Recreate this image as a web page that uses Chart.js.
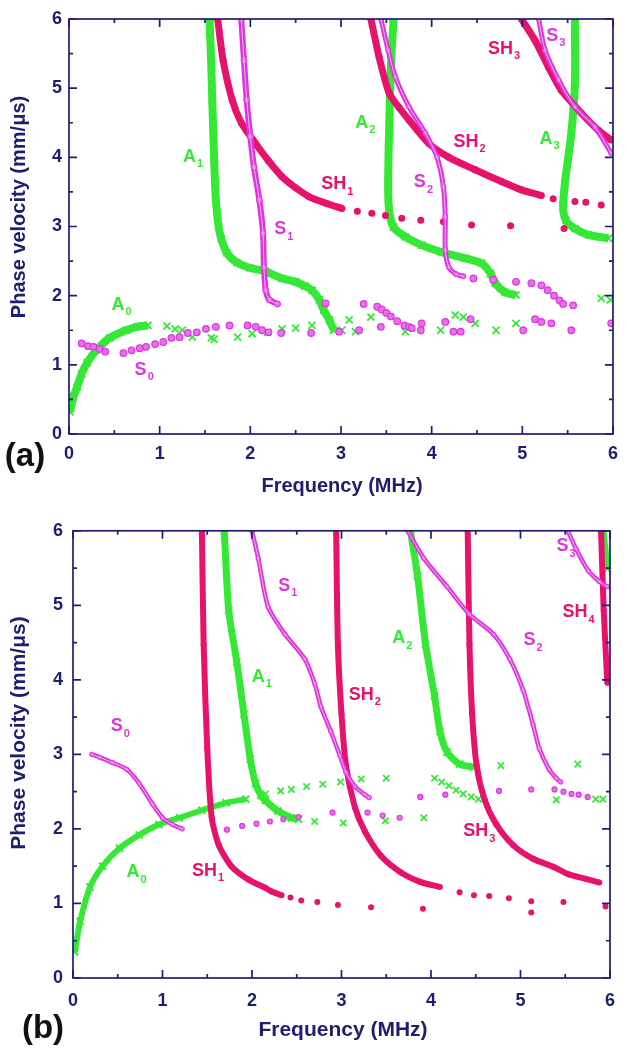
<!DOCTYPE html>
<html>
<head>
<meta charset="utf-8">
<script src="https://cdn.jsdelivr.net/npm/chart.js@4"></script>
<style>
  html, body { margin: 0; padding: 0; background: #fff; }
  .panel { position: absolute; left: 0; width: 627px; }
</style>
</head>
<body>
<div class="panel" style="top:0;height:510px"><canvas id="chartA"></canvas></div>
<div class="panel" style="top:510px;height:540px"><canvas id="chartB"></canvas></div>
<script>
// axis ticks (MHz and mm/us)
var majorTicks = [0, 1, 2, 3, 4, 5, 6];
var minorTicks = [0.5, 1.5, 2.5, 3.5, 4.5, 5.5];

// ---- panel (a): [frequency MHz, phase velocity mm/us] ----
var aA0 = [[0.01,0.32],[0.05,0.54],[0.09,0.68],[0.14,0.87],[0.2,1.03],[0.3,1.21],[0.45,1.39],[0.63,1.5],[0.75,1.55],[0.87,1.57]];
var aA0pts = [[1.08,1.56],[1.17,1.52],[1.25,1.5],[1.36,1.4],[1.57,1.39],[1.6,1.37],[1.86,1.4],[2.02,1.45],[2.19,1.47],[2.35,1.52],[2.5,1.53],[2.68,1.57],
  [3.01,1.5],[3.09,1.65],[3.16,1.48],[3.33,1.69],[3.71,1.48],[4.1,1.5],[4.26,1.72],[4.35,1.69],[4.48,1.6],[4.71,1.5],[4.93,1.6],[5.87,1.96],[5.97,1.94]];
var aA1 = [[1.55,6],[1.57,5.3],[1.58,4.83],[1.6,4.0],[1.62,3.38],[1.65,3.0],[1.68,2.82],[1.74,2.62],[1.85,2.48],[2.0,2.4],[2.17,2.35],[2.35,2.25],[2.5,2.2],[2.6,2.14],[2.68,2.08],[2.76,1.94],[2.81,1.79],[2.87,1.65],[2.92,1.5]];
var aA2 = [[3.58,6],[3.55,5.3],[3.53,4.35],[3.52,3.62],[3.53,3.24],[3.58,2.99],[3.71,2.85],[3.89,2.73],[4.11,2.63],[4.37,2.54],[4.55,2.47],[4.65,2.32],[4.7,2.18],[4.81,2.05],[4.93,2.01]];
var aA3 = [[5.58,6],[5.58,5.07],[5.54,4.35],[5.47,3.63],[5.45,3.28],[5.48,3.09],[5.58,2.97],[5.73,2.88],[5.95,2.83]];
var aS1 = [[1.9,6],[1.93,5.4],[1.96,4.83],[2.0,4.3],[2.04,3.86],[2.1,3.38],[2.14,2.9],[2.15,2.41],[2.17,2.08],[2.21,1.94],[2.3,1.88]];
var aS2 = [[3.44,6],[3.52,5.55],[3.6,5.16],[3.75,4.73],[3.93,4.35],[4.06,4.0],[4.13,3.57],[4.15,3.14],[4.15,2.66],[4.19,2.41],[4.27,2.31],[4.35,2.28]];
var aS3 = [[5.18,6],[5.25,5.55],[5.4,5.12],[5.58,4.73],[5.8,4.44],[5.98,4.06]];
var aSpts = [[0.14,1.31],[0.21,1.27],[0.27,1.26],[0.34,1.23],[0.4,1.19],[0.6,1.17],[0.69,1.21],[0.78,1.24],[0.85,1.26],[0.95,1.3],[1.04,1.33],[1.13,1.39],[1.22,1.4],
  [1.31,1.46],[1.41,1.47],[1.51,1.52],[1.62,1.55],[1.77,1.57],[1.97,1.57],[2.06,1.55],[2.13,1.5],[2.2,1.47],[2.34,1.46],[2.67,1.46],[2.83,1.89],[2.98,1.48],
  [3.2,1.5],[3.25,1.88],[3.4,1.84],[3.45,1.8],[3.5,1.75],[3.55,1.7],[3.62,1.63],[3.7,1.57],[3.75,1.55],[3.44,1.55],[3.78,1.53],[3.89,1.6],[3.88,1.5],
  [4.15,1.62],[4.24,1.48],[4.32,1.48],[4.43,1.66],[4.46,2.25],[4.68,2.23],[4.93,2.2],[5.01,1.5],[5.1,2.18],[5.14,1.66],[5.21,1.62],[5.21,2.15],[5.28,2.08],
  [5.35,2.0],[5.41,1.93],[5.45,1.88],[5.56,1.86],[5.32,1.6],[5.54,1.5],[5.98,1.6]];
var aSH1 = [[1.64,6],[1.7,5.4],[1.8,4.83],[1.9,4.5],[2.03,4.25],[2.2,3.95],[2.35,3.72],[2.5,3.56],[2.65,3.43],[2.85,3.33],[3.01,3.26]];
var aSH2 = [[3.33,6],[3.42,5.45],[3.53,4.93],[3.64,4.72],[3.75,4.54],[3.97,4.2],[4.19,4.0],[4.48,3.82],[4.77,3.65],[4.99,3.53],[5.21,3.45]];
var aSH3 = [[4.99,6],[5.14,5.69],[5.29,5.3],[5.43,4.97],[5.65,4.64],[5.84,4.39],[5.98,4.25]];
var aSHpts = [[3.18,3.22],[3.34,3.19],[3.49,3.16],[3.67,3.12],[3.88,3.09],[4.13,3.07],[4.44,3.02],[4.87,3.01],[5.46,2.97],
  [5.34,3.4],[5.58,3.36],[5.7,3.35],[5.87,3.31]];
// mode name, order, frequency, velocity
var aLabels = [['A','0',0.54,1.89],['S','0',0.79,0.95],['A','1',1.33,4.03],['S','1',2.33,2.98],['SH','1',2.92,3.63],['A','2',3.23,4.52],
  ['S','2',3.87,3.66],['SH','2',4.38,4.25],['SH','3',4.76,5.59],['S','3',5.33,5.78],['A','3',5.26,4.29]];

// ---- panel (b) ----
var bA0 = [[0.02,0.35],[0.08,0.76],[0.19,1.22],[0.33,1.5],[0.52,1.74],[0.74,1.92],[0.96,2.06],[1.19,2.15],[1.44,2.25],[1.71,2.35],[1.93,2.4]];
var bA0pts = [[2.15,2.47],[2.32,2.51],[2.44,2.53],[2.61,2.57],[2.79,2.6],[2.99,2.63],[3.22,2.67],[3.5,2.68],[2.7,2.1],[3.02,2.08],[3.49,2.11],[3.92,2.15]];
var bA1 = [[1.69,6],[1.74,4.93],[1.83,4.24],[1.91,3.54],[1.98,2.94],[2.04,2.61],[2.1,2.45],[2.15,2.38],[2.29,2.24],[2.44,2.15],[2.52,2.13]];
var bA2 = [[3.77,6],[3.85,5.39],[3.94,4.47],[4.04,3.78],[4.1,3.31],[4.18,3.03],[4.32,2.87],[4.48,2.83]];
var bA2pts = [[4.78,2.85],[5.64,2.87],[4.04,2.68],[4.12,2.63],[4.2,2.58],[4.28,2.52],[4.36,2.47],[4.45,2.43],[4.53,2.4],[5.4,2.39],[5.84,2.4],[5.92,2.4]];
var bA3 = [[5.92,6],[5.97,5.49]];
var bS0 = [[0.21,3.0],[0.3,2.96],[0.44,2.89],[0.6,2.8],[0.74,2.61],[0.89,2.33],[1.0,2.15],[1.11,2.06],[1.22,2.0]];
var bS1 = [[2.0,6],[2.07,5.63],[2.18,4.98],[2.37,4.61],[2.59,4.28],[2.7,3.95],[2.77,3.64],[2.88,3.31],[2.98,2.99],[3.05,2.76],[3.15,2.57],[3.26,2.46],[3.31,2.42]];
var bS2 = [[3.74,6],[3.92,5.63],[4.18,5.25],[4.43,4.88],[4.7,4.61],[4.88,4.28],[5.03,3.86],[5.14,3.4],[5.21,3.08],[5.32,2.8],[5.4,2.68],[5.45,2.63]];
var bS3 = [[5.53,6],[5.62,5.76],[5.76,5.46],[5.88,5.32],[5.97,5.25]];
var bSpts = [[1.72,1.99],[1.89,2.04],[2.05,2.07],[2.2,2.1],[2.35,2.13],[2.52,2.16],[2.9,2.22],[3.29,2.22],[3.46,2.18],[3.65,2.15],[3.88,2.43],[4.16,2.46],
  [4.76,2.51],[5.12,2.53],[5.38,2.53],[5.48,2.5],[5.57,2.47],[5.65,2.46],[5.75,2.43]];
var bSH1 = [[1.44,6],[1.46,4.47],[1.5,3.08],[1.55,2.15],[1.63,1.78],[1.77,1.5],[1.96,1.32],[2.15,1.21],[2.22,1.16],[2.33,1.11]];
var bSH2 = [[2.94,6],[2.96,4.47],[3.0,3.54],[3.05,2.85],[3.15,2.29],[3.26,1.97],[3.44,1.64],[3.66,1.42],[3.88,1.29],[4.1,1.22]];
var bSH3 = [[4.41,6],[4.43,4.47],[4.46,3.54],[4.51,2.85],[4.6,2.39],[4.73,2.06],[4.92,1.78],[5.14,1.6],[5.37,1.49],[5.54,1.39],[5.73,1.33],[5.88,1.28]];
var bSH4 = [[5.9,6],[5.93,4.93],[5.97,3.96]];
var bSHpts = [[2.43,1.08],[2.55,1.04],[2.73,1.02],[2.96,0.98],[3.33,0.95],[3.91,0.93],[5.12,1.03],[5.12,0.88],[5.48,1.02],[5.95,0.96],
  [4.32,1.15],[4.48,1.11],[4.65,1.1],[4.87,1.07]];
var bLabels = [['S','1',2.36,5.28],['A','1',2.07,4.06],['S','0',0.49,3.4],['A','0',0.67,1.44],['SH','1',1.47,1.46],['SH','2',3.22,3.82],
  ['A','2',3.64,4.58],['S','2',5.1,4.55],['SH','3',4.5,1.99],['S','3',5.47,5.81],['SH','4',5.61,4.93]];

var GREEN = '#36e836';
var CRIMSON = '#e6126b';
var MAGENTA = '#dc36dc';
var MAGENTA_MID = '#e870e8';
var MAGENTA_LIGHT = '#f6b4f6';
var NAVY = '#1e1e70';
var FONT = "'Liberation Sans', Arial, Helvetica, sans-serif";

function pts(arr) {
    return arr.map(function (p) { return { x: p[0], y: p[1] }; });
}

// curve drawn as a thick band with markers on it
function curve(arr, kind, w) {
    var ds = { data: pts(arr), showLine: true, borderWidth: w, tension: 0.25, clip: 0 };
    if (kind === 'A') {
        ds.borderColor = GREEN;
        ds.pointStyle = 'crossRot'; ds.pointRadius = 5; ds.pointBorderWidth = 2;
        ds.pointBorderColor = GREEN;
    } else if (kind === 'SH') {
        ds.borderColor = CRIMSON;
        ds.pointStyle = 'circle'; ds.pointRadius = w / 2; ds.pointBorderWidth = 0;
        ds.pointBackgroundColor = CRIMSON;
    } else {
        ds.borderColor = MAGENTA;
        ds.pointStyle = 'circle'; ds.pointRadius = w / 2; ds.pointBorderWidth = 1;
        ds.pointBorderColor = MAGENTA; ds.pointBackgroundColor = MAGENTA_MID;
    }
    return ds;
}

// light centre line for the S modes (open circle look)
function core(arr) {
    return { data: pts(arr), showLine: true, borderWidth: 1, tension: 0.25, clip: 0,
        borderColor: MAGENTA_LIGHT, pointRadius: 0 };
}

// loose points, no line
function dots(arr, kind, r) {
    var ds = { data: pts(arr), showLine: false, clip: 0 };
    if (kind === 'A') {
        ds.pointStyle = 'crossRot'; ds.pointRadius = r; ds.pointBorderWidth = 1.8;
        ds.pointBorderColor = GREEN; ds.pointBackgroundColor = GREEN;
    } else if (kind === 'SH') {
        ds.pointStyle = 'circle'; ds.pointRadius = r; ds.pointBorderWidth = 0;
        ds.pointBackgroundColor = CRIMSON;
    } else {
        ds.pointStyle = 'circle'; ds.pointRadius = r; ds.pointBorderWidth = 1.2;
        ds.pointBorderColor = MAGENTA; ds.pointBackgroundColor = MAGENTA_MID;
    }
    return ds;
}

// frame with inward ticks on all four sides
var framePlugin = {
    id: 'frame',
    afterDraw: function (chart) {
        var a = chart.chartArea, ctx = chart.ctx;
        var sx = chart.scales.x, sy = chart.scales.y;
        ctx.save();
        ctx.strokeStyle = NAVY;
        ctx.lineWidth = 1.7;
        ctx.strokeRect(a.left, a.top, a.right - a.left, a.bottom - a.top);
        ctx.beginPath();
        function tick(v, len) {
            var px = sx.getPixelForValue(v), py = sy.getPixelForValue(v);
            ctx.moveTo(px, a.bottom); ctx.lineTo(px, a.bottom - len);
            ctx.moveTo(px, a.top); ctx.lineTo(px, a.top + len);
            ctx.moveTo(a.left, py); ctx.lineTo(a.left + len, py);
            ctx.moveTo(a.right, py); ctx.lineTo(a.right - len, py);
        }
        majorTicks.forEach(function (v) { tick(v, 8); });
        minorTicks.forEach(function (v) { tick(v, 4); });
        ctx.stroke();
        ctx.restore();
    }
};

// axis titles, panel letter and mode names
var textPlugin = {
    id: 'panelText',
    afterDraw: function (chart, args, o) {
        var ctx = chart.ctx, sx = chart.scales.x, sy = chart.scales.y;
        ctx.save();
        ctx.fillStyle = NAVY;
        ctx.textAlign = 'center';
        ctx.textBaseline = 'middle';
        ctx.font = 'bold ' + o.titleSize + 'px ' + FONT;
        ctx.fillText('Frequency (MHz)', o.xTitle[0], o.xTitle[1]);
        ctx.save();
        ctx.translate(o.yTitle[0], o.yTitle[1]);
        ctx.rotate(-Math.PI / 2);
        ctx.fillText('Phase velocity (mm/\u03BCs)', 0, 0);
        ctx.restore();
        ctx.fillStyle = '#111';
        ctx.font = 'bold 33px ' + FONT;
        ctx.fillText(o.letter, o.letterPos[0], o.letterPos[1]);

        o.labels.forEach(function (l) {
            var color = l[0] === 'A' ? GREEN : (l[0] === 'SH' ? CRIMSON : MAGENTA);
            var x = sx.getPixelForValue(l[2]), y = sy.getPixelForValue(l[3]);
            ctx.fillStyle = color;
            ctx.textBaseline = 'alphabetic';
            ctx.textAlign = 'center';
            ctx.font = 'bold 18px ' + FONT;
            var w = ctx.measureText(l[0]).width;
            ctx.fillText(l[0], x, y + 6.5);
            ctx.textAlign = 'left';
            ctx.font = 'bold 11px ' + FONT;
            ctx.fillText(l[1], x + w / 2 + 1, y + 12);
        });
        ctx.restore();
    }
};

function makeChart(id, datasets, lay, text) {
    var tickFont = { family: FONT, size: 18, weight: 'bold' };
    return new Chart(document.getElementById(id), {
        type: 'scatter',
        data: { datasets: datasets },
        options: {
            responsive: true,
            maintainAspectRatio: false,
            animation: false,
            events: [],
            layout: { padding: { top: lay.top, right: lay.right, left: 0, bottom: 0 } },
            plugins: { legend: { display: false }, tooltip: { enabled: false }, panelText: text },
            scales: {
                x: {
                    type: 'linear', min: 0, max: 6,
                    ticks: { stepSize: 1, color: NAVY, font: tickFont, padding: lay.xPad },
                    grid: { display: false, drawTicks: false },
                    border: { display: false },
                    afterFit: function (s) { s.height = lay.xHeight; }
                },
                y: {
                    type: 'linear', min: 0, max: 6,
                    ticks: { stepSize: 1, color: NAVY, font: tickFont, padding: lay.yPad },
                    grid: { display: false, drawTicks: false },
                    border: { display: false },
                    afterFit: function (s) { s.width = lay.yWidth; }
                }
            }
        },
        plugins: [framePlugin, textPlugin]
    });
}

// first dataset ends up on top
var setsA = [
    core(aS1), core(aS2), core(aS3),
    curve(aS1, 'S', 6), curve(aS2, 'S', 5), curve(aS3, 'S', 5),
    dots(aSpts, 'S', 3.3),
    curve(aSH1, 'SH', 7), curve(aSH2, 'SH', 7), curve(aSH3, 'SH', 7),
    dots(aSHpts, 'SH', 3.5),
    curve(aA0, 'A', 8), curve(aA1, 'A', 8), curve(aA2, 'A', 8), curve(aA3, 'A', 8),
    dots(aA0pts, 'A', 5)
];

var setsB = [
    core(bS0), core(bS1), core(bS2), core(bS3),
    curve(bS0, 'S', 4.5), curve(bS1, 'S', 4.5), curve(bS2, 'S', 4.5), curve(bS3, 'S', 4.5),
    dots(bSpts, 'S', 2.5),
    curve(bSH1, 'SH', 6), curve(bSH2, 'SH', 6), curve(bSH3, 'SH', 6), curve(bSH4, 'SH', 6),
    dots(bSHpts, 'SH', 3),
    curve(bA0, 'A', 6), curve(bA1, 'A', 7), curve(bA2, 'A', 7), curve(bA3, 'A', 7),
    dots(bA0pts, 'A', 4.5), dots(bA2pts, 'A', 4.5)
];

makeChart('chartA', setsA,
    { top: 19, right: 12, xHeight: 76, yWidth: 69, xPad: 9, yPad: 7 },
    { letter: '(a)', letterPos: [25, 457], xTitle: [342, 486], yTitle: [19, 207], titleSize: 20, labels: aLabels });

makeChart('chartB', setsB,
    { top: 14, right: 13, xHeight: 72, yWidth: 73, xPad: 12, yPad: 10 },
    { letter: '(b)', letterPos: [43, 519], xTitle: [343, 520], yTitle: [19, 223], titleSize: 21, labels: bLabels });
</script>
</body>
</html>
